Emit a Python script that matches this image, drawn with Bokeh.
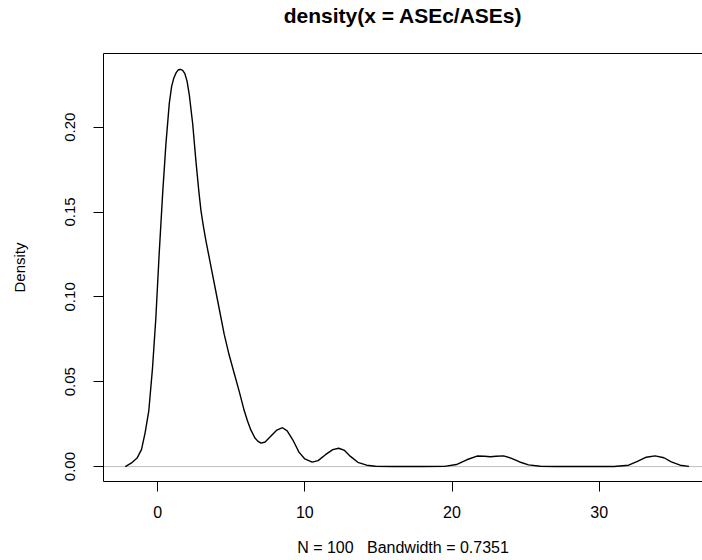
from bokeh.plotting import figure
from bokeh.models import LinearAxis, FixedTicker, Span, Range1d
from bokeh.embed import file_html
from bokeh.resources import INLINE

# Kernel density estimate (x, density)
dens_x = [-2.2, -1.8, -1.4, -1.1, -0.85, -0.6, -0.35, -0.12, 0.1, 0.34, 0.56, 0.79,
          0.95, 1.1, 1.25, 1.4, 1.55, 1.7, 1.85, 2.0, 2.15, 2.38, 2.6, 2.8, 2.94, 3.1, 3.28, 3.62,
          4.07, 4.52, 4.85, 5.2, 5.55, 5.88, 6.1, 6.33, 6.6, 6.8, 7.02, 7.3, 7.7,
          8.1, 8.48, 8.8, 9.2, 9.6, 10.0, 10.5, 10.9, 11.4, 11.9, 12.3, 12.7, 13.1,
          13.6, 14.2, 14.8, 16.0, 18.0, 19.5, 20.3, 21.0, 21.7, 22.2, 22.6, 23.0,
          23.5, 24.0, 24.6, 25.2, 26.0, 27.0, 31.0, 32.0, 32.6, 33.2, 33.8, 34.4,
          34.9, 35.5, 36.1]
dens_y = [0.0, 0.002, 0.005, 0.010, 0.020, 0.033, 0.058, 0.088, 0.125, 0.161, 0.190, 0.214,
          0.224, 0.229, 0.232, 0.2338, 0.234, 0.2335, 0.2315, 0.227, 0.219, 0.202, 0.180, 0.162, 0.151, 0.142, 0.133, 0.118,
          0.098, 0.078, 0.066, 0.055, 0.044, 0.033, 0.027, 0.0216, 0.017, 0.0150, 0.0138, 0.0145, 0.018,
          0.0215, 0.0229, 0.021, 0.0155, 0.0085, 0.0045, 0.0026, 0.0035, 0.0070, 0.0100, 0.0108, 0.0095, 0.0060,
          0.0025, 0.0008, 0.0002, 0.0, 0.0, 0.0001, 0.0012, 0.0040, 0.0062, 0.0061, 0.0058, 0.0061,
          0.0063, 0.0050, 0.0027, 0.0010, 0.0002, 0.0, 0.0, 0.0008, 0.0030, 0.0055, 0.0063, 0.0052,
          0.0028, 0.0008, 0.0001]

x_ticks = [0, 10, 20, 30]
y_ticks = [0.0, 0.05, 0.10, 0.15, 0.20]
y_tick_labels = {0.0: "0.00", 0.05: "0.05", 0.1: "0.10", 0.15: "0.15", 0.2: "0.20"}

title_text = "density(x = ASEc/ASEs)"
x_label = "N = 100\u00a0\u00a0\u00a0Bandwidth = 0.7351"
y_label = "Density"

FONT = "Liberation Sans"

p = figure(frame_width=599, frame_height=428,
           min_border_left=103, min_border_right=0, min_border_top=53, min_border_bottom=79,
           x_range=Range1d(-3.68, 37.02), y_range=Range1d(-0.0088, 0.2434),
           output_backend="svg", toolbar_location=None)
p.outline_line_color = None
p.xgrid.visible = False
p.ygrid.visible = False
p.background_fill_color = "white"
p.border_fill_color = "white"

zero = Span(location=0, dimension="width", line_color="#BEBEBE", line_width=1, level="underlay")
p.add_layout(zero)

p.line(dens_x, dens_y, line_color="black", line_width=1.4)

xa = p.xaxis[0]
xa.ticker = FixedTicker(ticks=x_ticks)
xa.minor_tick_line_color = None
xa.major_tick_out = 10
xa.major_tick_in = 0
xa.major_label_standoff = 14
xa.major_label_text_font = FONT
xa.major_label_text_font_size = "16px"
xa.major_label_text_color = "black"
xa.axis_line_color = "black"
xa.major_tick_line_color = "black"
xa.axis_label = x_label
xa.axis_label_text_font = FONT
xa.axis_label_text_font_size = "16px"
xa.axis_label_text_font_style = "normal"
xa.axis_label_text_color = "black"
xa.axis_label_standoff = 18

ya = p.yaxis[0]
ya.ticker = FixedTicker(ticks=y_ticks)
ya.major_label_overrides = y_tick_labels
ya.major_label_orientation = "vertical"
ya.minor_tick_line_color = None
ya.major_tick_out = 10
ya.major_tick_in = 0
ya.major_label_standoff = 18
ya.major_label_text_font = FONT
ya.major_label_text_font_size = "15px"
ya.major_label_text_color = "black"
ya.axis_line_color = "black"
ya.major_tick_line_color = "black"
ya.axis_label = y_label
ya.axis_label_text_font = FONT
ya.axis_label_text_font_size = "15px"
ya.axis_label_text_font_style = "normal"
ya.axis_label_text_color = "black"
ya.axis_label_standoff = 35

top = LinearAxis(ticker=FixedTicker(ticks=[]), major_tick_line_color=None,
                 major_tick_out=0, major_tick_in=0, major_label_standoff=0,
                 minor_tick_line_color=None, major_label_text_font_size="0px",
                 axis_line_color="black",
                 axis_label=title_text, axis_label_text_font=FONT,
                 axis_label_text_font_size="21px", axis_label_text_font_style="bold",
                 axis_label_text_color="black", axis_label_standoff=27)
p.add_layout(top, "above")

open("out.html", "w").write(file_html(p, INLINE))
